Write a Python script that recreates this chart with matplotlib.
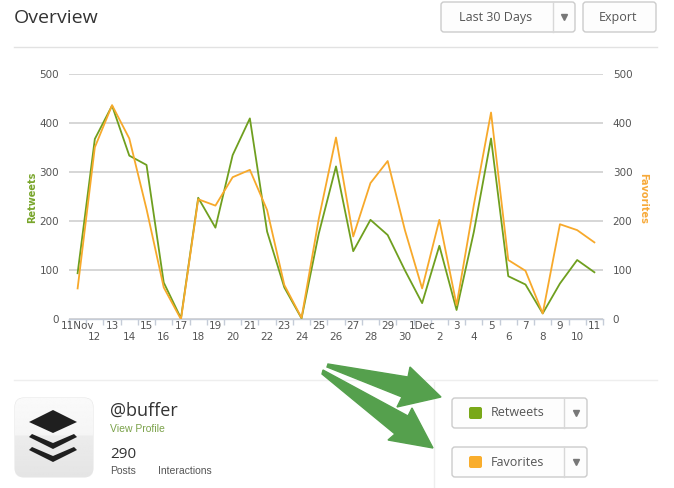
import numpy as np
import matplotlib
matplotlib.use("Agg")
import matplotlib.pyplot as plt
import matplotlib.transforms as mtransforms
from matplotlib.patches import FancyBboxPatch, Polygon

# ---------------- data ----------------
dates = ["11Nov", "12", "13", "14", "15", "16", "17", "18", "19", "20",
         "21", "22", "23", "24", "25", "26", "27", "28", "29", "30",
         "1Dec", "2", "3", "4", "5", "6", "7", "8", "9", "10", "11"]
retweets = [94, 368, 436, 334, 315, 75, 2, 248, 187, 335,
            410, 179, 65, 2, 175, 312, 139, 203, 172, 100,
            33, 150, 19, 178, 369, 88, 71, 12, 73, 121, 96]
favorites = [63, 351, 437, 369, 225, 65, 0, 245, 232, 290,
             305, 223, 70, 3, 205, 371, 169, 278, 323, 182,
             63, 203, 29, 233, 422, 121, 99, 12, 194, 182, 157]
y_ticks = [0, 100, 200, 300, 400, 500]

GREEN = "#6f9f1f"
ORANGE = "#f7a92b"
W, H = 674, 488

fig = plt.figure(figsize=(W / 100, H / 100), dpi=100)
fig.patch.set_facecolor("white")

# ---------------- UI overlay (pixel coordinates) ----------------
ui = fig.add_axes([0, 0, 1, 1], zorder=0)
ui.set_xlim(0, W)
ui.set_ylim(H, 0)
ui.axis("off")

UIF = ["Open Sans", "DejaVu Sans"]
SANS = ["Liberation Sans", "DejaVu Sans"]

ui.text(14, 18, "Overview", fontsize=14, color="#333333", va="center", ha="left", family=UIF)
ui.plot([14, 657], [47, 47], color="#e2e2e2", lw=1)


def button(x, y, w, h):
    p = FancyBboxPatch((x, y), w, h, boxstyle="round,pad=0,rounding_size=3",
                       facecolor="#fdfdfd", edgecolor="#cccccc", lw=1)
    ui.add_patch(p)


button(441, 2, 134, 30)
ui.plot([553, 553], [2, 32], color="#d8d8d8", lw=1)
ui.text(496, 17, "Last 30 Days", fontsize=9, color="#555555", ha="center", va="center", family=UIF)
ui.plot([564], [16.5], marker="v", ms=4, color="#777777")
button(583, 2, 73, 30)
ui.text(618, 17, "Export", fontsize=9, color="#555555", ha="center", va="center", family=UIF)

# lower section
ui.plot([14, 657], [380, 380], color="#eeeeee", lw=1)
ui.plot([434, 434], [382, 488], color="#eeeeee", lw=1)

# profile icon
icon = FancyBboxPatch((15, 398), 78, 79, boxstyle="round,pad=0,rounding_size=9",
                      facecolor="none", edgecolor="#e6e6e6", lw=0.8)
ui.add_patch(icon)
grad = np.concatenate([np.linspace(0.98, 0.96, 38), np.linspace(0.925, 0.895, 42)])[:, None]
im = ui.imshow(np.repeat(grad, 2, axis=1), cmap="gray", vmin=0, vmax=1,
               extent=(15, 93, 477, 398), aspect="auto", zorder=1)
im.set_clip_path(icon)
ui.set_xlim(0, W)
ui.set_ylim(H, 0)
ui.add_patch(Polygon([(29, 422), (53, 410), (77, 422), (53, 433)], closed=True,
                     facecolor="#1f1f1f", edgecolor="none", zorder=2))
for dy in (0, 13):
    ui.add_patch(Polygon([(29, 437 + dy), (32, 434 + dy), (53, 443 + dy), (74, 434 + dy),
                          (77, 437 + dy), (53, 449 + dy)], closed=True,
                         facecolor="#1f1f1f", edgecolor="none", zorder=2))

ui.text(110, 411, "@buffer", fontsize=13, color="#333333", ha="left", va="center", family=UIF)
ui.text(110, 429, "View Profile", fontsize=7.5, color="#7ba24a", ha="left", va="center", family=SANS)
ui.text(110, 455, "290", fontsize=11, color="#333333", ha="left", va="center", family=UIF)
ui.text(110, 471, "Posts", fontsize=7.5, color="#555555", ha="left", va="center", family=SANS)
ui.text(158, 471, "Interactions", fontsize=7.5, color="#555555", ha="left", va="center", family=SANS)

# series toggle buttons
for y0, label, col in ((398, "Retweets", "#79a818"), (447, "Favorites", "#f9ad2c")):
    button(452, y0, 135, 30)
    ui.plot([564, 564], [y0, y0 + 30], color="#d8d8d8", lw=1)
    ui.add_patch(FancyBboxPatch((469, y0 + 9), 13, 12, boxstyle="round,pad=0,rounding_size=2",
                                facecolor=col, edgecolor="none"))
    ui.text(491, y0 + 15, label, fontsize=9, color="#555555", ha="left", va="center", family=UIF)
    ui.plot([575.5], [y0 + 15], marker="v", ms=4, color="#777777")

# green arrows
ARROW = "#55a04d"
ui.add_patch(Polygon([(328, 364), (408, 377), (410, 367), (441, 397), (397, 407),
                      (402, 397), (327, 367)], closed=True, facecolor=ARROW,
                     edgecolor=ARROW, lw=1.0, zorder=3))
ui.add_patch(Polygon([(323, 370), (408, 416), (412, 408), (433, 448), (388, 440),
                      (395, 434), (322, 374)], closed=True, facecolor=ARROW,
                     edgecolor=ARROW, lw=1.0, zorder=3))

# ---------------- chart ----------------
ax = fig.add_axes([69 / W, 1 - 319.3 / H, 534 / W, 245 / H], zorder=2)
ax.patch.set_alpha(0)
x = np.arange(len(dates))
ax.plot(x, retweets, color=GREEN, lw=1.3, zorder=3)
ax.set_xlim(-0.5, len(dates) - 0.5)
ax.set_ylim(0, 500)
ax.set_yticks(y_ticks)
ax.set_yticklabels([str(v) for v in y_ticks])
ax.yaxis.grid(True, color="#cfcfcf", lw=1.2)
ax.set_axisbelow(True)
for s in ("top", "left", "right"):
    ax.spines[s].set_visible(False)
ax.spines["bottom"].set_color("#c5ccd8")
ax.spines["bottom"].set_linewidth(1)
ax.tick_params(axis="y", length=0, pad=7, labelsize=7.5, labelcolor="#555555")

ax.set_xticks([])
ax.set_xticks(np.arange(-0.5, len(dates)), minor=True)
ax.tick_params(axis="x", which="minor", length=4, color="#c5ccd8", width=1)
base = ax.get_xaxis_transform()
for i, d in enumerate(dates):
    off = 7 if i % 2 == 0 else 18
    tr = mtransforms.offset_copy(base, fig=fig, y=-off, units="dots")
    ax.text(i, 0, d, transform=tr, fontsize=7.5, color="#555555", ha="center", va="center")

ax2 = ax.twinx()
ax2.plot(x, favorites, color=ORANGE, lw=1.3, zorder=4)
ax2.set_ylim(0, 500)
ax2.set_yticks(y_ticks)
ax2.set_yticklabels([str(v) for v in y_ticks])
for s in ("top", "left", "right", "bottom"):
    ax2.spines[s].set_visible(False)
ax2.tick_params(axis="y", length=0, pad=7, labelsize=7.5, labelcolor="#555555")

fig.text(32 / W, 1 - 197 / H, "Retweets", rotation=90, color="#78a52a", fontsize=7,
         fontweight="bold", ha="center", va="center")
fig.text(643 / W, 1 - 198 / H, "Favorites", rotation=270, color="#f7aa3a", fontsize=7,
         fontweight="bold", ha="center", va="center")

fig.savefig("out.png", dpi=100, facecolor="white")
